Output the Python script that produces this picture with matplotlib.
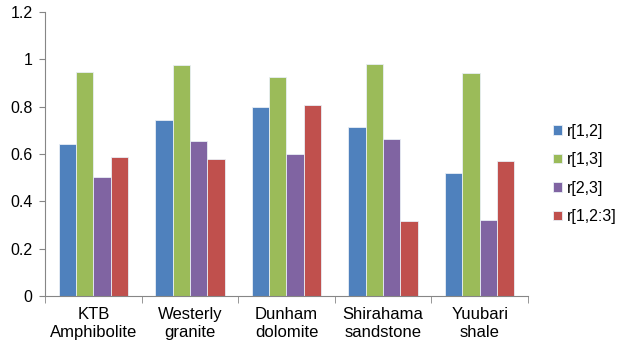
import numpy as np
import matplotlib
matplotlib.use("Agg")
import matplotlib.pyplot as plt

plt.rcParams['font.family'] = ['Liberation Sans', 'DejaVu Sans']

rocks = ['KTB\nAmphibolite', 'Westerly\ngranite', 'Dunham\ndolomite',
         'Shirahama\nsandstone', 'Yuubari\nshale']
series = ['r[1,2]', 'r[1,3]', 'r[2,3]', 'r[1,2:3]']
r12 = [0.642, 0.742, 0.80, 0.713, 0.521]
r13 = [0.946, 0.976, 0.927, 0.982, 0.944]
r23 = [0.504, 0.656, 0.60, 0.662, 0.321]
r123 = [0.586, 0.578, 0.806, 0.318, 0.569]
colors = ['#4F81BD', '#9BBB59', '#8064A2', '#C0504D']

fig = plt.figure(figsize=(6.28, 3.45), dpi=100)
ax = fig.add_axes([0.0717, 0.142, 0.769, 0.823])

x = np.arange(len(rocks))
w = 0.18
for i, (vals, c, lab) in enumerate(zip([r12, r13, r23, r123], colors, series)):
    ax.bar(x + (i - 1.5) * w, vals, w, color=c, label=lab,
           edgecolor='#e8eef5', linewidth=0.6)

ax.set_xlim(-0.5, len(rocks) - 0.5)
ax.set_ylim(0, 1.2)
ax.set_yticks([0, 0.2, 0.4, 0.6, 0.8, 1, 1.2])
ax.set_yticklabels(['0', '0.2', '0.4', '0.6', '0.8', '1', '1.2'])
ax.set_xticks(x)
ax.set_xticklabels(rocks, linespacing=1.25)
ax.set_xticks(np.arange(len(rocks) + 1) - 0.5, minor=True)
ax.tick_params(axis='x', which='major', length=0, pad=8, labelsize=12)
ax.tick_params(axis='x', which='minor', length=5, color='#868686')
ax.tick_params(axis='y', length=4, color='#868686', labelsize=11.5, pad=5)

for s in ['top', 'right']:
    ax.spines[s].set_visible(False)
for s in ['left', 'bottom']:
    ax.spines[s].set_color('#868686')

ax.legend(loc='center left', bbox_to_anchor=(1.022, 0.43), frameon=False,
          fontsize=11.5, handlelength=0.55, handleheight=0.55, handletextpad=0.35,
          labelspacing=0.85)

fig.savefig('out.png', dpi=100)
